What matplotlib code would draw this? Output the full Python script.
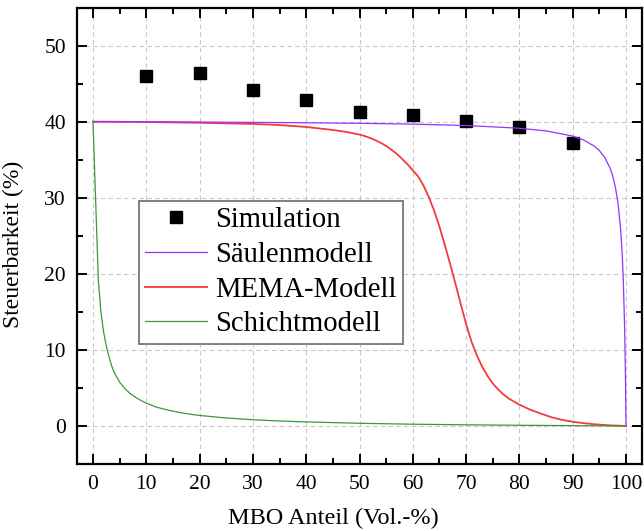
import matplotlib
matplotlib.use("Agg")
import matplotlib.pyplot as plt
from matplotlib.ticker import MultipleLocator

plt.rcParams['font.family'] = ['Liberation Serif', 'DejaVu Serif']
plt.rcParams['mathtext.fontset'] = 'stix'

# Simulated tunability
sim_x = [10, 20, 30, 40, 50, 60, 70, 80, 90]
sim_y = [46.0, 46.4, 44.2, 42.9, 41.2, 40.9, 40.1, 39.3, 37.2]

# Column (parallel) model
saeulen_x = [0, 10, 20, 30, 40, 50, 60, 70, 80, 85, 90, 92, 94, 95, 96, 97,
             97.5, 98, 98.5, 99, 99.3, 99.5, 99.7, 99.8, 99.9, 100]
saeulen_y = [40.0, 39.98, 39.94, 39.9, 39.85, 39.78, 39.67, 39.49, 39.13, 38.78,
             38.1, 37.6, 36.8, 36.2, 35.3, 33.9, 32.9, 31.4, 29.3, 25.8,
             22.4, 19.0, 14.0, 10.6, 6.1, 0.0]

# MEMA model
mema_x = [0, 10, 20, 30, 35, 40, 45, 47.5, 50, 51, 52, 53, 54, 55, 56, 57, 58,
          59, 60, 61, 62, 63, 64, 65, 66, 67, 68, 69, 70, 71, 72, 73, 74, 75,
          76, 77, 78, 80, 82, 84, 86, 88, 90, 92, 94, 96, 98, 100]
mema_y = [40.0, 39.95, 39.85, 39.7, 39.55, 39.3, 38.9, 38.65, 38.3, 38.1, 37.85,
          37.55, 37.2, 36.8, 36.3, 35.75, 35.1, 34.4, 33.6, 32.8, 31.6, 30.1,
          28.3, 26.2, 23.8, 21.3, 18.7, 16.0, 13.4, 11.1, 9.3, 7.8, 6.6, 5.6,
          4.8, 4.15, 3.6, 2.8, 2.15, 1.63, 1.15, 0.8, 0.55, 0.37, 0.23, 0.12,
          0.05, 0.0]

# Layer (series) model
schicht_x = [0, 1, 1.5, 2, 2.5, 3, 3.5, 4, 5, 6, 7, 8, 9, 10, 12, 14, 16, 18,
             20, 25, 30, 35, 40, 50, 60, 70, 80, 90, 100]
schicht_y = [40.0, 19.2, 14.9, 12.3, 10.5, 9.1, 7.9, 7.0, 5.75, 4.9, 4.25, 3.75,
             3.35, 3.0, 2.45, 2.1, 1.8, 1.57, 1.38, 1.05, 0.82, 0.65, 0.53,
             0.35, 0.23, 0.15, 0.09, 0.04, 0.0]

fig = plt.figure(figsize=(6.44, 5.31), dpi=100)
ax = fig.add_axes([77 / 644, 1 - 464 / 531, (642 - 77) / 644, (464 - 7.5) / 531])

ax.plot(sim_x, sim_y, linestyle='none', marker='s', markersize=8.6,
        color='black', label='Simulation', zorder=3)
ax.plot(saeulen_x, saeulen_y, color='#9B30FF', lw=0.9, label='Säulenmodell', zorder=4)
ax.plot(mema_x, mema_y, color='#F23C3C', lw=1.3, label='MEMA-Modell', zorder=3.5)
ax.plot(schicht_x, schicht_y, color='#3A9A3A', lw=0.9, label='Schichtmodell', zorder=4.5)

ax.set_xlim(-3, 103)
ax.set_ylim(-5, 55)
ax.xaxis.set_major_locator(MultipleLocator(10))
ax.xaxis.set_minor_locator(MultipleLocator(5))
ax.yaxis.set_major_locator(MultipleLocator(10))
ax.yaxis.set_minor_locator(MultipleLocator(5))

ax.grid(True, which='major', color='#C8C8C8', lw=0.8, linestyle=(0, (4, 3)))
ax.set_axisbelow(True)

for s in ax.spines.values():
    s.set_linewidth(1.6)

ax.tick_params(which='both', direction='in', top=True, right=True, width=1.4,
               labelsize=15.5, pad=8)
ax.tick_params(which='major', length=7)
ax.tick_params(which='minor', length=4)

ax.set_xlabel('MBO Anteil (Vol.-%)', fontsize=17.5, labelpad=10)
ax.set_ylabel('Steuerbarkeit (%)', fontsize=17, labelpad=6)
ax.xaxis.set_label_coords(0.453, -0.097)
ax.yaxis.set_label_coords(-0.093, 0.482)

leg = ax.legend(loc='upper left', bbox_to_anchor=(0.110, 0.576), borderaxespad=0,
                fontsize=20.6, frameon=True, fancybox=False, edgecolor='#808080',
                framealpha=1, handlelength=2.15, handletextpad=0.3,
                labelspacing=0.3, borderpad=0.22, markerscale=1.0)
leg.get_frame().set_linewidth(1.4)

fig.savefig('out.png', dpi=100)
